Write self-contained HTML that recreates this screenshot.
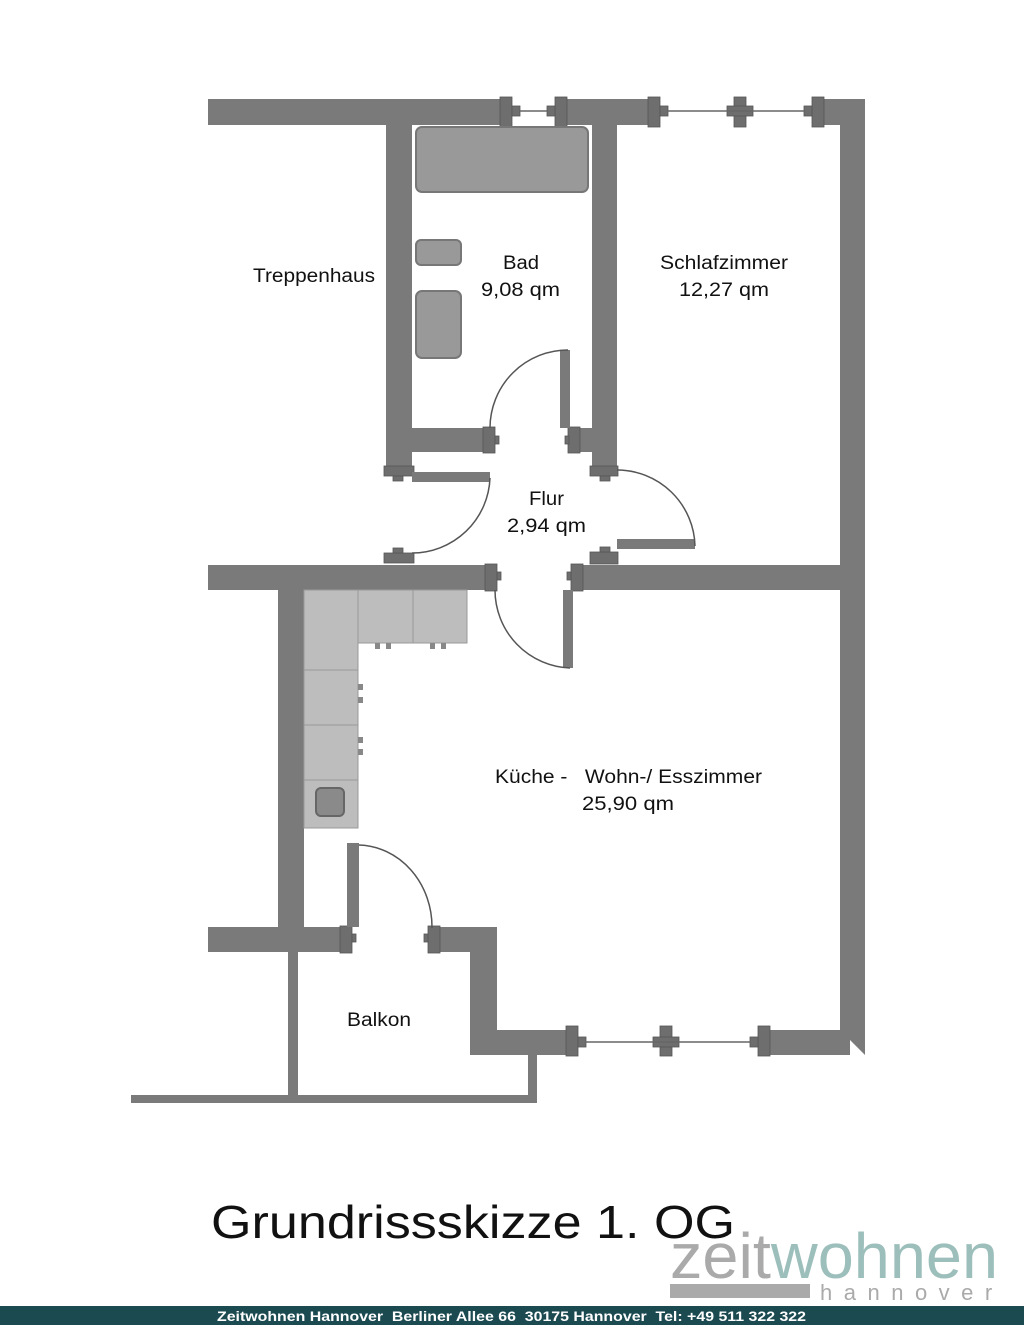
<!DOCTYPE html>
<html><head><meta charset="utf-8"><style>
html,body{margin:0;padding:0;background:#fff;}
svg{display:block;}
text{font-family:"Liberation Sans",sans-serif;}
</style></head><body>
<svg width="1024" height="1325" viewBox="0 0 1024 1325" xmlns="http://www.w3.org/2000/svg">
<g fill="#7a7a7a">
<rect x="208" y="99" width="300" height="26"/>
<rect x="562" y="99" width="92" height="26"/>
<polygon points="818,99 865,99 865,1055 840,1030 840,125 818,125"/>
<rect x="386" y="125" width="26" height="342"/>
<rect x="592" y="125" width="25" height="342"/>
<rect x="412" y="428" width="80" height="24"/>
<rect x="572" y="428" width="20" height="24"/>
<rect x="208" y="565" width="287" height="25"/>
<rect x="575" y="565" width="290" height="25"/>
<rect x="278" y="590" width="26" height="340"/>
<rect x="208" y="927" width="142" height="25"/>
<polygon points="432,927 497,927 497,1030 575,1030 575,1055 470,1055 470,952 432,952"/>
<rect x="760" y="1030" width="90" height="25"/>
<rect x="288" y="952" width="10" height="151"/>
<rect x="131" y="1095" width="406" height="8"/>
<rect x="528" y="1055" width="9" height="48"/>
</g>
<g fill="#6e6e6e" stroke="#555" stroke-width="0.8">
<rect x="500" y="97" width="12" height="30"/><rect x="512" y="106" width="8" height="10"/>
<rect x="555" y="97" width="12" height="30"/><rect x="547" y="106" width="8" height="10"/>
<rect x="648" y="97" width="12" height="30"/><rect x="660" y="106" width="8" height="10"/>
<rect x="734" y="97" width="12" height="30"/><rect x="727" y="106" width="26" height="10"/>
<rect x="812" y="97" width="12" height="30"/><rect x="804" y="106" width="8" height="10"/>
<rect x="566" y="1026" width="12" height="30"/><rect x="578" y="1037" width="8" height="10"/>
<rect x="660" y="1026" width="12" height="30"/><rect x="653" y="1037" width="26" height="10"/>
<rect x="758" y="1026" width="12" height="30"/><rect x="750" y="1037" width="8" height="10"/>
<rect x="483" y="427" width="12" height="26"/><rect x="495" y="436" width="4" height="8"/>
<rect x="568" y="427" width="12" height="26"/><rect x="565" y="436" width="4" height="8"/>
<rect x="384" y="466" width="30" height="10"/><rect x="393" y="476" width="10" height="5"/>
<rect x="384" y="553" width="30" height="10"/><rect x="393" y="548" width="10" height="5"/>
<rect x="590" y="466" width="28" height="10"/><rect x="600" y="476" width="10" height="5"/>
<rect x="590" y="552" width="28" height="12"/><rect x="600" y="547" width="10" height="5"/>
<rect x="485" y="564" width="12" height="27"/><rect x="497" y="572" width="4" height="8"/>
<rect x="571" y="564" width="12" height="27"/><rect x="567" y="572" width="4" height="8"/>
<rect x="340" y="926" width="12" height="27"/><rect x="352" y="934" width="4" height="8"/>
<rect x="428" y="926" width="12" height="27"/><rect x="424" y="934" width="4" height="8"/>
</g>
<g stroke="#666" stroke-width="1.5">
<line x1="520" y1="111" x2="547" y2="111"/>
<line x1="668" y1="111" x2="804" y2="111"/>
<line x1="586" y1="1042" x2="750" y2="1042"/>
</g>
<g fill="#7a7a7a">
<rect x="560" y="350" width="10" height="78"/>
<rect x="412" y="472" width="78" height="10"/>
<rect x="617" y="539" width="78" height="10"/>
<rect x="563" y="590" width="10" height="78"/>
<rect x="347" y="843" width="12" height="84"/>
</g>
<g fill="none" stroke="#555" stroke-width="1.5">
<path d="M490,428 A78,78 0 0 1 568,350"/>
<path d="M490,478 A78,78 0 0 1 412,553"/>
<path d="M617,470 A78,78 0 0 1 695,546"/>
<path d="M495,590 A78,78 0 0 0 570,668"/>
<path d="M359,845 A75,82 0 0 1 432,928"/>
</g>
<g fill="#999" stroke="#777" stroke-width="2">
<rect x="416" y="127" width="172" height="65" rx="6"/>
<rect x="416" y="240" width="45" height="25" rx="5"/>
<rect x="416" y="291" width="45" height="67" rx="6"/>
</g>
<g fill="#bdbdbd" stroke="#999" stroke-width="1">
<rect x="304" y="590" width="54" height="238"/>
<rect x="358" y="590" width="55" height="53"/>
<rect x="413" y="590" width="54" height="53"/>
<rect x="304" y="670" width="54" height="55"/>
<rect x="304" y="725" width="54" height="55"/>
</g>
<rect x="316" y="788" width="28" height="28" rx="5" fill="#8a8a8a" stroke="#666" stroke-width="2"/>
<g fill="#888">
<rect x="375" y="643" width="5" height="6"/><rect x="386" y="643" width="5" height="6"/>
<rect x="430" y="643" width="5" height="6"/><rect x="441" y="643" width="5" height="6"/>
<rect x="358" y="684" width="5" height="6"/><rect x="358" y="697" width="5" height="6"/>
<rect x="358" y="737" width="5" height="6"/><rect x="358" y="749" width="5" height="6"/>
</g>
<g font-size="19" fill="#111" lengthAdjust="spacingAndGlyphs">
<text x="253" y="282" textLength="122" lengthAdjust="spacingAndGlyphs">Treppenhaus</text>
<text x="503" y="269" textLength="36" lengthAdjust="spacingAndGlyphs">Bad</text>
<text x="481" y="296" textLength="79" lengthAdjust="spacingAndGlyphs">9,08 qm</text>
<text x="660" y="269" textLength="128" lengthAdjust="spacingAndGlyphs">Schlafzimmer</text>
<text x="679" y="296" textLength="90" lengthAdjust="spacingAndGlyphs">12,27 qm</text>
<text x="529" y="505" textLength="35" lengthAdjust="spacingAndGlyphs">Flur</text>
<text x="507" y="532" textLength="79" lengthAdjust="spacingAndGlyphs">2,94 qm</text>
<text x="495" y="783" xml:space="preserve" textLength="267" lengthAdjust="spacingAndGlyphs">Küche -   Wohn-/ Esszimmer</text>
<text x="582" y="810" textLength="92" lengthAdjust="spacingAndGlyphs">25,90 qm</text>
<text x="347" y="1026" textLength="64" lengthAdjust="spacingAndGlyphs">Balkon</text>
</g>
<text x="211" y="1238" font-size="46" fill="#111" textLength="524" lengthAdjust="spacingAndGlyphs">Grundrissskizze 1. OG</text>
<text x="670" y="1278" font-size="64" fill="#aaa" textLength="328" lengthAdjust="spacingAndGlyphs">zeit<tspan fill="#9dbfbc">wohnen</tspan></text>
<rect x="670" y="1284" width="140" height="14" fill="#aaa"/>
<text x="820" y="1300" font-size="22" fill="#aaa" letter-spacing="11.5">hannover</text>
<rect x="0" y="1306" width="1024" height="19" fill="#1b4a50"/>
<text x="217" y="1321" font-size="14" font-weight="bold" fill="#fff" xml:space="preserve" textLength="589" lengthAdjust="spacingAndGlyphs">Zeitwohnen Hannover  Berliner Allee 66  30175 Hannover  Tel: +49 511 322 322</text>
</svg>
</body></html>
